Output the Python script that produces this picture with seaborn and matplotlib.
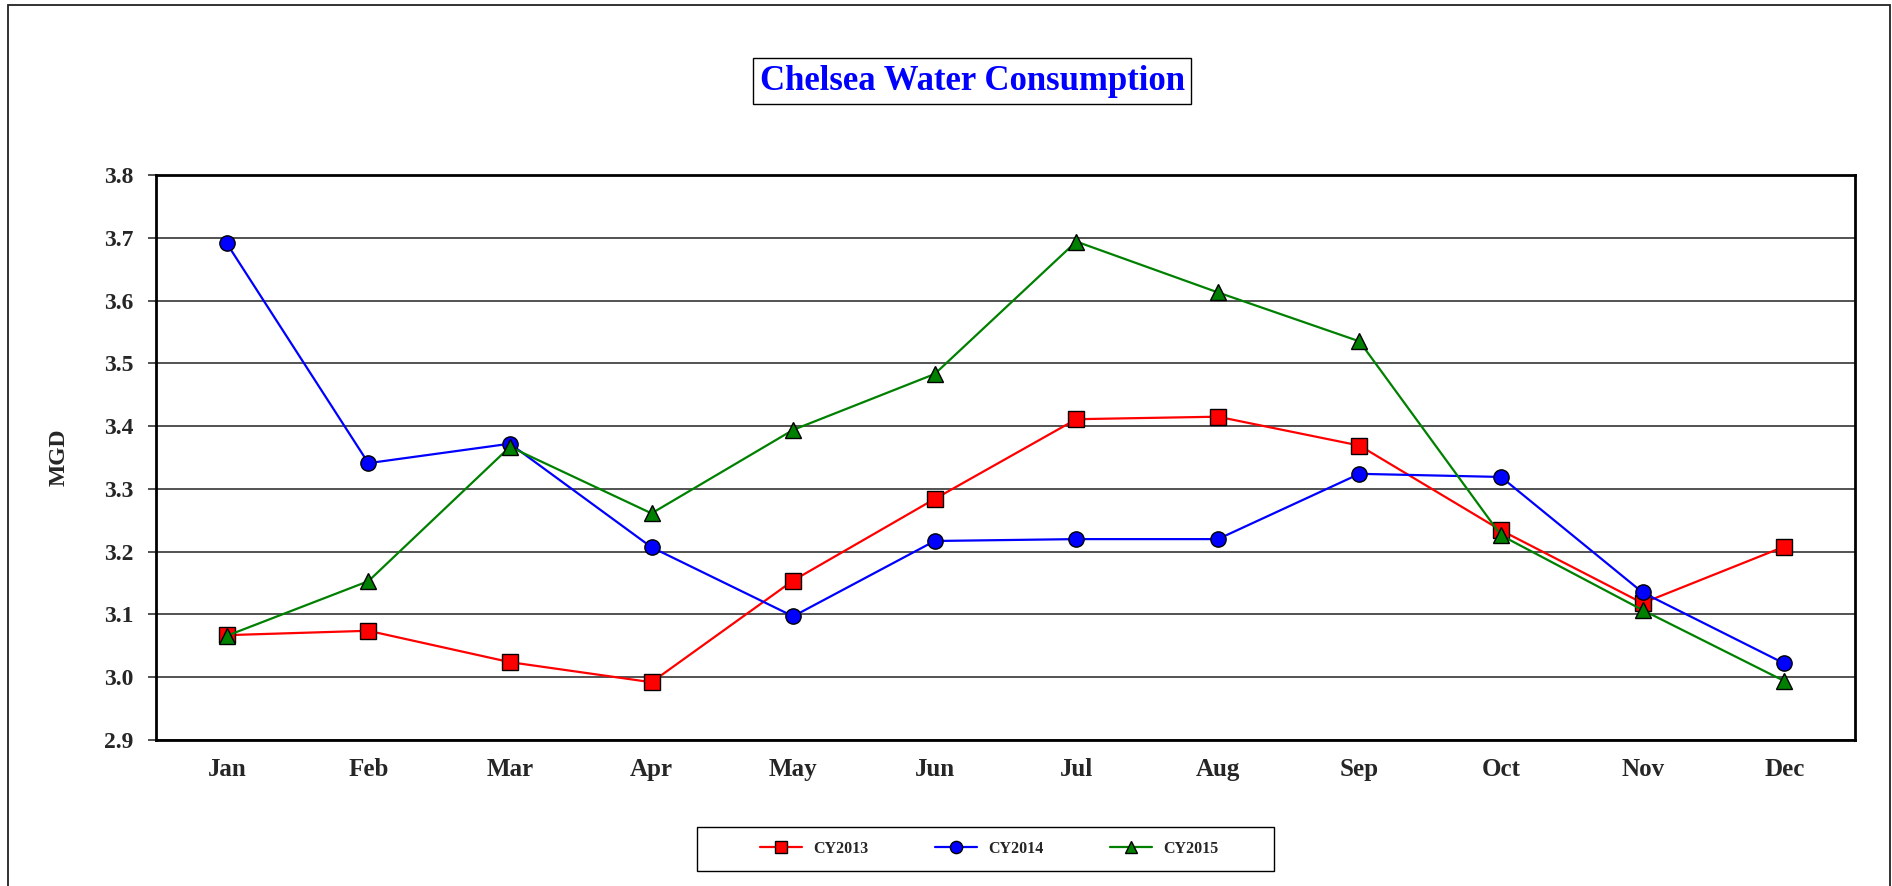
import matplotlib
matplotlib.use("Agg")
import matplotlib.pyplot as plt
import matplotlib.patches as mpatches
from matplotlib.ticker import FixedLocator, FormatStrFormatter
import seaborn as sns
import pandas as pd

months = ["Jan", "Feb", "Mar", "Apr", "May", "Jun", "Jul", "Aug", "Sep", "Oct", "Nov", "Dec"]
cy2013 = [3.067, 3.074, 3.024, 2.992, 3.154, 3.284, 3.411, 3.415, 3.369, 3.234, 3.118, 3.208]
cy2014 = [3.691, 3.341, 3.372, 3.207, 3.097, 3.217, 3.220, 3.220, 3.324, 3.319, 3.135, 3.022]
cy2015 = [3.066, 3.153, 3.367, 3.261, 3.394, 3.483, 3.694, 3.613, 3.535, 3.226, 3.107, 2.994]
series_names = ["CY2013", "CY2014", "CY2015"]
y_ticks = [2.9, 3.0, 3.1, 3.2, 3.3, 3.4, 3.5, 3.6, 3.7, 3.8]

rows = []
for name, vals in zip(series_names, [cy2013, cy2014, cy2015]):
    for i, (m, v) in enumerate(zip(months, vals)):
        rows.append({"idx": i, "Month": m, "MGD": v, "Series": name})
df = pd.DataFrame(rows)

sns.set_style("white")
plt.rcParams["font.family"] = ["Liberation Serif", "DejaVu Serif"]
plt.rcParams["font.weight"] = "bold"

W, H = 1892, 886
fig = plt.figure(figsize=(W / 100, H / 100), dpi=100)
fig.patch.set_facecolor("white")

def px(x0, y0, x1, y1):
    return [x0 / W, 1 - y1 / H, (x1 - x0) / W, (y1 - y0) / H]

ax = fig.add_axes(px(156, 175, 1855, 740))

palette = {"CY2013": "#FF0000", "CY2014": "#0000FF", "CY2015": "#008000"}
markers = {"CY2013": "s", "CY2014": "o", "CY2015": "^"}

sns.lineplot(data=df, x="idx", y="MGD", hue="Series", style="Series",
             palette=palette, markers=markers, dashes=False,
             hue_order=series_names, style_order=series_names,
             linewidth=1.6, markersize=11, markeredgecolor="black",
             markeredgewidth=1.0, ax=ax, legend=True, zorder=3)

handles, labels = ax.get_legend_handles_labels()
if ax.get_legend() is not None:
    ax.get_legend().remove()

ax.set_xlim(-0.5, 11.5)
ax.set_ylim(2.9, 3.8)
ax.set_yticks(y_ticks)
ax.yaxis.set_major_formatter(FormatStrFormatter("%.1f"))
ax.set_xticks(range(12))
ax.set_xticklabels(months)
ax.xaxis.set_minor_locator(FixedLocator([i + 0.5 for i in range(11)]))

ax.grid(True, axis="y", color="#444444", linewidth=1.3, zorder=1)
ax.grid(False, axis="x")
ax.set_axisbelow(True)

for s in ax.spines.values():
    s.set_color("black")
    s.set_linewidth(2.0)

ax.tick_params(axis="x", which="major", length=0, pad=13, labelsize=18)
ax.tick_params(axis="x", which="minor", direction="in", length=6, width=1.2, color="#555555")
ax.tick_params(axis="y", which="major", direction="out", length=6, width=1.2,
               color="#333333", left=True, pad=10, labelsize=17)
for lab in ax.get_xticklabels() + ax.get_yticklabels():
    lab.set_fontweight("bold")

ax.set_xlabel("")
ax.set_ylabel("MGD", fontsize=17, fontweight="bold")
ax.yaxis.set_label_coords(-0.0506, 0.5)

# Title with box
fig.text(972 / W, 1 - 81 / H, "Chelsea Water Consumption", ha="center", va="center",
         fontsize=25, fontweight="bold", color="#0000FF",
         bbox=dict(boxstyle="square,pad=0.2", fc="white", ec="black", lw=1.0))

# Outer frame
fig.patches.append(mpatches.Rectangle((8 / W, -0.1), (1890 - 8) / W, 1.1 - 5 / H,
                                      transform=fig.transFigure, fill=False,
                                      edgecolor="#222222", linewidth=1.3, clip_on=False))

# Legend frame
lx0, ly0, lx1, ly1 = 697, 827, 1274, 871
fig.patches.append(mpatches.Rectangle((lx0 / W, 1 - ly1 / H), (lx1 - lx0) / W, (ly1 - ly0) / H,
                                      transform=fig.transFigure, fill=False,
                                      edgecolor="black", linewidth=1.0))
fig.legend(handles, labels, loc="center", bbox_to_anchor=((lx0 + lx1) / 2 / W + 0.002, 1 - (ly0 + ly1) / 2 / H),
           ncol=3, frameon=False, prop={"family": "Liberation Serif", "weight": "bold", "size": 11.5},
           handlelength=2.6, handletextpad=0.7, columnspacing=4.2, markerscale=0.8)

fig.savefig("out.png", dpi=100, facecolor="white")
